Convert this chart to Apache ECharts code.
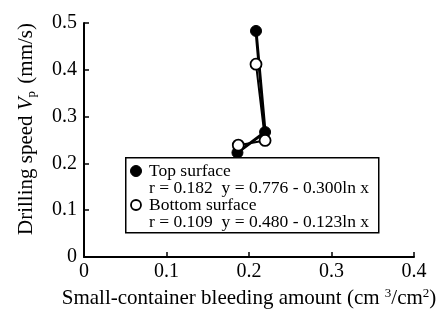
<!DOCTYPE html>
<html><head><meta charset="utf-8">
<script src="https://cdn.jsdelivr.net/npm/echarts@6/dist/echarts.min.js"></script>
<style>html,body{margin:0;padding:0;background:#fff}#c{width:440px;height:316px}</style>
</head><body><div id="c"></div>
<script>
var xTicks = [0, 0.1, 0.2, 0.3, 0.4];
var yTicks = [0, 0.1, 0.2, 0.3, 0.4, 0.5];
var topX = [0.2085, 0.2195, 0.186];
var topY = [0.483, 0.267, 0.223];
var bottomX = [0.2085, 0.2195, 0.187];
var bottomY = [0.412, 0.249, 0.239];
var seriesNames = ['Top surface', 'Bottom surface'];
var fitLines = ['r = 0.182  y = 0.776 - 0.300ln x', 'r = 0.109  y = 0.480 - 0.123ln x'];

var F = '"Liberation Serif", "Times New Roman", serif';
function pairs(xs, ys){ return xs.map(function(x,i){return [x, ys[i]];}); }
function fmt(v){ return v === 0 ? '0' : v.toFixed(1); }

var chart = echarts.init(document.getElementById('c'), null, {renderer:'canvas'});
chart.setOption({
  animation:false,
  backgroundColor:'#fff',
  grid:{left:84, right:26, top:23, bottom:59},
  xAxis:{
    type:'value', min:xTicks[0], max:xTicks[xTicks.length-1], interval:0.1,
    axisLine:{lineStyle:{color:'#000', width:2}},
    axisTick:{inside:true, length:5, lineStyle:{color:'#000', width:1.5}},
    axisLabel:{color:'#000', fontFamily:F, fontSize:20, margin:5, formatter:fmt},
    splitLine:{show:false},
    name:'{a|Small-container bleeding amount (cm }{p|3}{a|/cm}{p|2}{a|)}',
    nameLocation:'middle', nameGap:29,
    nameTextStyle:{color:'#000', fontFamily:F, fontSize:21,
      rich:{
        a:{fontFamily:F, fontSize:21, color:'#000', lineHeight:24},
        p:{fontFamily:F, fontSize:13, color:'#000', verticalAlign:'top', lineHeight:24, padding:[0,0,8,0]}
      }}
  },
  yAxis:{
    type:'value', min:yTicks[0], max:yTicks[yTicks.length-1], interval:0.1,
    axisLine:{lineStyle:{color:'#000', width:2}},
    axisTick:{inside:true, length:5, lineStyle:{color:'#000', width:1.5}},
    axisLabel:{color:'#000', fontFamily:F, fontSize:20, margin:7, formatter:fmt},
    splitLine:{show:false},
    name:'{a|Drilling speed }{i|V}{s|p}{a| (mm/s)}',
    nameLocation:'middle', nameGap:46, nameRotate:90,
    nameTextStyle:{color:'#000', fontFamily:F, fontSize:21, padding:[0,0,0,22],
      rich:{
        a:{fontFamily:F, fontSize:21, color:'#000', lineHeight:24},
        i:{fontFamily:F, fontSize:21, fontStyle:'italic', color:'#000', lineHeight:24},
        s:{fontFamily:F, fontSize:13, color:'#000', verticalAlign:'bottom', lineHeight:24, padding:[6,2,0,0]}
      }}
  },
  series:[
    {name:seriesNames[0], type:'line', data:pairs(topX, topY), symbol:'circle', symbolSize:11,
     lineStyle:{color:'#000', width:3}, itemStyle:{color:'#000', borderColor:'#000', borderWidth:1}, z:2},
    {name:seriesNames[1], type:'line', data:pairs(bottomX, bottomY), symbol:'circle', symbolSize:11,
     lineStyle:{color:'#000', width:2}, itemStyle:{color:'#fff', borderColor:'#000', borderWidth:1.8}, z:3}
  ],
  graphic:[
    {type:'rect', left:125, top:157, z:10, shape:{width:253, height:75},
     style:{fill:'#fff', stroke:'#000', lineWidth:1.5}},
    {type:'circle', z:11, shape:{cx:136, cy:171, r:5.5}, style:{fill:'#000', stroke:'#000'}},
    {type:'circle', z:11, shape:{cx:136, cy:205, r:5}, style:{fill:'#fff', stroke:'#000', lineWidth:1.8}},
    {type:'text', z:11, left:149, top:162, style:{text:seriesNames[0], font:'17.5px '+F, fill:'#000'}},
    {type:'text', z:11, left:149, top:179, style:{text:fitLines[0], font:'17.5px '+F, fill:'#000'}},
    {type:'text', z:11, left:149, top:196, style:{text:seriesNames[1], font:'17.5px '+F, fill:'#000'}},
    {type:'text', z:11, left:149, top:213, style:{text:fitLines[1], font:'17.5px '+F, fill:'#000'}}
  ]
});
</script></body></html>
